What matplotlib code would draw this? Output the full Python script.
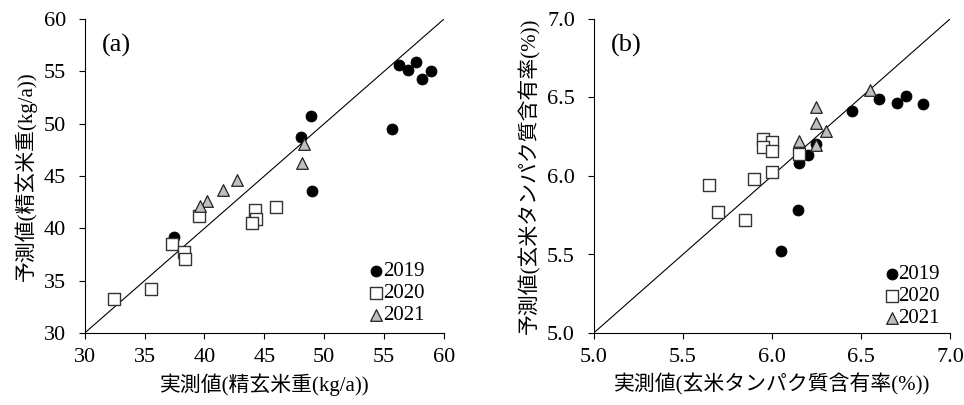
import matplotlib
matplotlib.use("Agg")
import matplotlib.pyplot as plt
from matplotlib.ticker import FormatStrFormatter

FAM = ['Liberation Serif', 'Noto Sans CJK JP']
plt.rcParams['font.family'] = FAM

# ---- data: panel (a) yield ----
a19_x = [48.86, 48.06, 48.97, 55.68, 56.26, 56.96, 57.68, 58.18, 58.88, 37.48]
a19_y = [50.75, 48.69, 43.59, 49.48, 55.60, 55.12, 55.88, 54.23, 55.05, 39.14]
a20_x = [32.47, 35.51, 37.31, 38.29, 38.37, 39.57, 44.22, 44.27, 43.97, 45.97]
a20_y = [33.28, 34.20, 38.50, 37.77, 37.10, 41.20, 41.75, 40.86, 40.48, 42.07]
a21_x = [48.28, 48.14, 42.74, 41.54, 40.18, 39.62]
a21_y = [48.05, 46.20, 44.61, 43.66, 42.58, 42.13]

# ---- data: panel (b) protein ----
b19_x = [6.450, 6.601, 6.703, 6.753, 6.850, 6.248, 6.205, 6.151, 6.147, 6.050]
b19_y = [6.414, 6.490, 6.463, 6.510, 6.461, 6.204, 6.134, 6.081, 5.786, 5.520]
b20_x = [5.950, 6.001, 5.950, 6.001, 6.151, 6.001, 5.898, 5.649, 5.700, 5.849]
b20_y = [6.234, 6.217, 6.183, 6.162, 6.140, 6.024, 5.981, 5.943, 5.771, 5.718]
b21_x = [6.551, 6.250, 6.250, 6.302, 6.151, 6.250]
b21_y = [6.548, 6.440, 6.340, 6.285, 6.221, 6.196]

years = ['2019', '2020', '2021']
a_ticks = [30, 35, 40, 45, 50, 55, 60]
b_ticks = [5.0, 5.5, 6.0, 6.5, 7.0]

a_xlabel = '実測値(精玄米重(kg/a))'
a_ylabel = '予測値(精玄米重(kg/a))'
b_xlabel = '実測値(玄米タンパク質含有率(%))'
b_ylabel = '予測値(玄米タンパク質含有率(%))'

W, H = 964, 405
fig = plt.figure(figsize=(W / 100, H / 100), dpi=100)
axA = fig.add_axes([84.7 / W, (H - 333) / H, (444 - 84.7) / W, 314 / H])
axB = fig.add_axes([593.7 / W, (H - 333) / H, (950 - 593.7) / W, 314 / H])

FS = 15
TFS = 16

def style(ax, ticks, lim, fmt):
    for s in ['top', 'right']:
        ax.spines[s].set_visible(False)
    for s in ['left', 'bottom']:
        ax.spines[s].set_linewidth(0.8)
        ax.spines[s].set_color('black')
    ax.set_xlim(lim)
    ax.set_ylim(lim)
    ax.set_xticks(ticks)
    ax.set_yticks(ticks)
    ax.xaxis.set_major_formatter(FormatStrFormatter(fmt))
    ax.yaxis.set_major_formatter(FormatStrFormatter(fmt))
    ax.tick_params(axis='both', direction='out', length=4.5, width=0.8,
                   labelsize=TFS, colors='black')
    ax.tick_params(axis='y', pad=9)
    ax.tick_params(axis='x', pad=6)
    ax.plot(lim, lim, color='black', lw=0.8, zorder=1)

def draw(ax, d19, d20, d21, ticks, lim, fmt, xl, yl, tag, leg_anchor):
    style(ax, ticks, lim, fmt)
    h1 = ax.scatter(d19[0], d19[1], s=62, marker='o', facecolor='black',
                    edgecolor='black', linewidths=0.6, zorder=3)
    h2 = ax.scatter(d20[0], d20[1], s=70, marker='s', facecolor='white',
                    edgecolor='#333333', linewidths=1.0, zorder=3)
    h3 = ax.scatter(d21[0], d21[1], s=70, marker='^', facecolor='#bfbfbf',
                    edgecolor='#222222', linewidths=0.9, zorder=3)
    ax.set_xlabel(xl, fontsize=FS, labelpad=5)
    ax.set_ylabel(yl, fontsize=FS, labelpad=5)
    ax.text(0.048, 0.915, tag, transform=ax.transAxes, fontsize=19,
            va='center', ha='left')
    ax.legend([h1, h2, h3], years, loc='lower right', bbox_to_anchor=leg_anchor,
              frameon=False, fontsize=FS, handlelength=0.6,
              handletextpad=0.0, labelspacing=0.12, borderpad=0,
              borderaxespad=0)

draw(axA, (a19_x, a19_y), (a20_x, a20_y), (a21_x, a21_y), a_ticks, (30, 60),
     '%d', a_xlabel, a_ylabel, '(a)', (0.945, 0.025))
draw(axB, (b19_x, b19_y), (b20_x, b20_y), (b21_x, b21_y), b_ticks, (5.0, 7.0),
     '%.1f', b_xlabel, b_ylabel, '(b)', (0.97, 0.015))

fig.savefig('out.png', dpi=100)
